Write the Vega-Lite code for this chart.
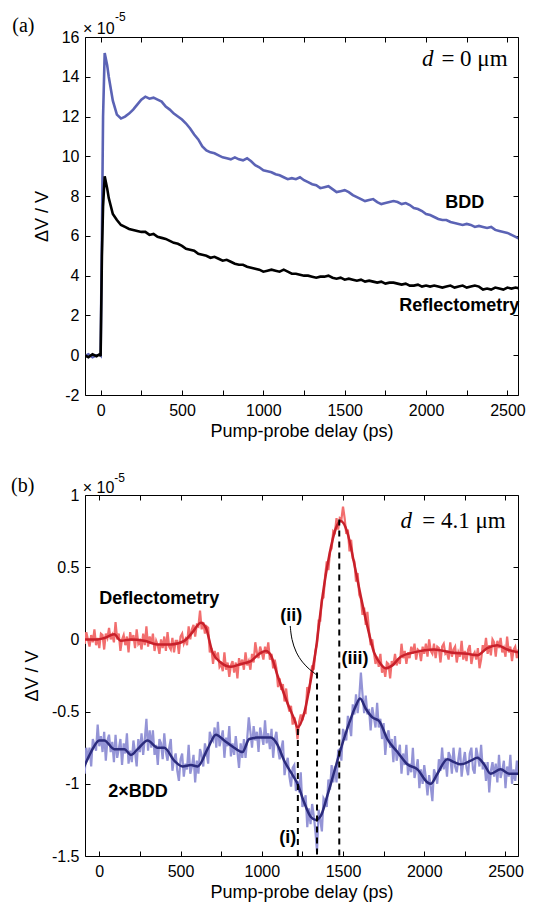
{
"$schema": "https://vega.github.io/schema/vega-lite/v6.json",
"padding": {"left": 10, "top": 10, "right": 5, "bottom": 5},
"spacing": 100,
"bounds": "flush",
"resolve": {"scale": {"color": "independent"}},
"datasets": {
"a": [
{"t":-100,"b":-0.05,"r":0.0},{"t":-75,"b":0.05,"r":-0.1},{"t":-50,"b":-0.1,"r":0.05},{"t":-25,"b":0.0,"r":-0.05},{"t":-5,"b":0.05,"r":0.05},{"t":0,"b":0.0,"r":-0.05},
{"t":8,"b":6,"r":5},{"t":15,"b":12,"r":7.5},{"t":25,"b":15.2,"r":9.0},{"t":40,"b":14.6,"r":8.4},{"t":50,"b":14.0,"r":7.9},{"t":75,"b":12.8,"r":7.1},
{"t":100,"b":12.1,"r":6.8},{"t":125,"b":11.9,"r":6.55},{"t":150,"b":12.0,"r":6.45},{"t":175,"b":12.15,"r":6.35},{"t":200,"b":12.35,"r":6.3},{"t":225,"b":12.6,"r":6.25},
{"t":250,"b":12.85,"r":6.2},{"t":275,"b":13.0,"r":6.2},{"t":300,"b":12.9,"r":6.05},{"t":325,"b":12.95,"r":6.1},{"t":350,"b":12.85,"r":5.95},{"t":375,"b":12.75,"r":5.9},
{"t":400,"b":12.5,"r":5.85},{"t":425,"b":12.35,"r":5.75},{"t":450,"b":12.15,"r":5.65},{"t":475,"b":12.0,"r":5.6},{"t":500,"b":11.85,"r":5.5},{"t":525,"b":11.65,"r":5.35},
{"t":550,"b":11.4,"r":5.3},{"t":575,"b":11.1,"r":5.25},{"t":600,"b":10.85,"r":5.1},{"t":625,"b":10.5,"r":5.05},{"t":650,"b":10.3,"r":5.0},{"t":675,"b":10.2,"r":4.9},
{"t":700,"b":10.15,"r":4.95},{"t":725,"b":10.05,"r":4.85},{"t":750,"b":9.95,"r":4.75},{"t":775,"b":9.9,"r":4.8},{"t":800,"b":9.85,"r":4.7},{"t":825,"b":9.95,"r":4.6},
{"t":850,"b":9.85,"r":4.55},{"t":875,"b":9.8,"r":4.55},{"t":900,"b":9.9,"r":4.45},{"t":925,"b":9.75,"r":4.4},{"t":950,"b":9.55,"r":4.35},{"t":975,"b":9.45,"r":4.3},
{"t":1000,"b":9.3,"r":4.2},{"t":1025,"b":9.25,"r":4.25},{"t":1050,"b":9.2,"r":4.3},{"t":1075,"b":9.1,"r":4.25},{"t":1100,"b":9.05,"r":4.2},{"t":1125,"b":8.95,"r":4.3},
{"t":1150,"b":8.85,"r":4.2},{"t":1175,"b":8.9,"r":4.1},{"t":1200,"b":8.85,"r":4.1},{"t":1225,"b":8.95,"r":4.05},{"t":1250,"b":8.8,"r":4.0},{"t":1275,"b":8.7,"r":4.0},
{"t":1300,"b":8.6,"r":3.95},{"t":1325,"b":8.55,"r":3.9},{"t":1350,"b":8.4,"r":3.95},{"t":1375,"b":8.45,"r":3.95},{"t":1400,"b":8.5,"r":4.0},{"t":1425,"b":8.35,"r":3.9},
{"t":1450,"b":8.2,"r":3.85},{"t":1475,"b":8.25,"r":3.9},{"t":1500,"b":8.3,"r":3.8},{"t":1525,"b":8.2,"r":3.85},{"t":1550,"b":8.05,"r":3.8},{"t":1575,"b":7.95,"r":3.75},
{"t":1600,"b":7.85,"r":3.8},{"t":1625,"b":7.75,"r":3.7},{"t":1650,"b":7.8,"r":3.75},{"t":1675,"b":7.85,"r":3.7},{"t":1700,"b":7.7,"r":3.65},{"t":1725,"b":7.6,"r":3.7},
{"t":1750,"b":7.65,"r":3.6},{"t":1775,"b":7.7,"r":3.65},{"t":1800,"b":7.75,"r":3.65},{"t":1825,"b":7.7,"r":3.6},{"t":1850,"b":7.6,"r":3.55},{"t":1875,"b":7.65,"r":3.6},
{"t":1900,"b":7.55,"r":3.5},{"t":1925,"b":7.4,"r":3.5},{"t":1950,"b":7.35,"r":3.55},{"t":1975,"b":7.25,"r":3.45},{"t":2000,"b":7.1,"r":3.5},{"t":2025,"b":7.05,"r":3.45},
{"t":2050,"b":6.95,"r":3.5},{"t":2075,"b":6.85,"r":3.45},{"t":2100,"b":6.8,"r":3.4},{"t":2125,"b":6.8,"r":3.45},{"t":2150,"b":6.7,"r":3.5},{"t":2175,"b":6.65,"r":3.4},
{"t":2200,"b":6.6,"r":3.45},{"t":2225,"b":6.55,"r":3.5},{"t":2250,"b":6.6,"r":3.4},{"t":2275,"b":6.55,"r":3.45},{"t":2300,"b":6.45,"r":3.5},{"t":2325,"b":6.5,"r":3.45},
{"t":2350,"b":6.45,"r":3.3},{"t":2375,"b":6.4,"r":3.35},{"t":2400,"b":6.45,"r":3.3},{"t":2425,"b":6.3,"r":3.4},{"t":2450,"b":6.25,"r":3.35},{"t":2475,"b":6.2,"r":3.3},
{"t":2500,"b":6.15,"r":3.4},{"t":2525,"b":6.05,"r":3.35},{"t":2550,"b":5.95,"r":3.4},{"t":2575,"b":5.85,"r":3.35}
],
"bn": [
{"t":-100,"d":0.02,"b":-0.85},{"t":-90,"d":-0.03,"b":-0.93},{"t":-80,"d":0.05,"b":-0.75},{"t":-70,"d":0.0,"b":-0.83},{"t":-60,"d":-0.05,"b":-0.75},{"t":-50,"d":0.03,"b":-0.88},
{"t":-40,"d":-0.02,"b":-0.69},{"t":-30,"d":0.07,"b":-0.73},{"t":-20,"d":-0.04,"b":-0.77},{"t":-10,"d":0.01,"b":-0.59},{"t":0,"d":-0.06,"b":-0.74},{"t":10,"d":0.04,"b":-0.67},
{"t":20,"d":0.03,"b":-0.78},{"t":30,"d":-0.07,"b":-0.64},{"t":40,"d":0.04,"b":-0.84},{"t":50,"d":0.01,"b":-0.7},{"t":60,"d":0.08,"b":-0.66},{"t":70,"d":0.0,"b":-0.78},
{"t":80,"d":0.03,"b":-0.71},{"t":90,"d":-0.02,"b":-0.85},{"t":100,"d":0.12,"b":-0.66},{"t":110,"d":0.0,"b":-0.82},{"t":120,"d":0.04,"b":-0.76},{"t":130,"d":-0.08,"b":-0.69},
{"t":140,"d":0.0,"b":-0.87},{"t":150,"d":0.03,"b":-0.72},{"t":160,"d":-0.04,"b":-0.79},{"t":170,"d":0.02,"b":-0.65},{"t":180,"d":-0.09,"b":-0.86},{"t":190,"d":0.05,"b":-0.77},
{"t":200,"d":-0.01,"b":-0.85},{"t":210,"d":0.03,"b":-0.7},{"t":220,"d":-0.06,"b":-0.78},{"t":230,"d":0.07,"b":-0.88},{"t":240,"d":-0.03,"b":-0.69},{"t":250,"d":-0.01,"b":-0.78},
{"t":260,"d":-0.07,"b":-0.65},{"t":270,"d":0.04,"b":-0.8},{"t":280,"d":-0.04,"b":-0.69},{"t":290,"d":0.09,"b":-0.55},{"t":300,"d":-0.05,"b":-0.77},{"t":310,"d":0.02,"b":-0.63},
{"t":320,"d":-0.03,"b":-0.75},{"t":330,"d":0.04,"b":-0.63},{"t":340,"d":-0.08,"b":-0.8},{"t":350,"d":-0.01,"b":-0.73},{"t":360,"d":-0.04,"b":-0.87},{"t":370,"d":-0.1,"b":-0.69},
{"t":380,"d":0.0,"b":-0.72},{"t":390,"d":-0.06,"b":-0.83},{"t":400,"d":0.02,"b":-0.65},{"t":410,"d":-0.08,"b":-0.78},{"t":420,"d":0.05,"b":-0.84},{"t":430,"d":-0.05,"b":-0.75},
{"t":440,"d":-0.07,"b":-0.69},{"t":450,"d":0.01,"b":-0.91},{"t":460,"d":-0.09,"b":-0.83},{"t":470,"d":-0.01,"b":-0.79},{"t":480,"d":-0.01,"b":-0.91},{"t":490,"d":-0.1,"b":-0.98},
{"t":500,"d":0.02,"b":-0.83},{"t":510,"d":0.04,"b":-0.79},{"t":520,"d":-0.03,"b":-0.95},{"t":530,"d":0.0,"b":-0.86},{"t":540,"d":-0.04,"b":-0.9},{"t":550,"d":0.09,"b":-0.73},
{"t":560,"d":0.0,"b":-0.93},{"t":570,"d":0.07,"b":-0.88},{"t":580,"d":0.1,"b":-0.8},{"t":590,"d":0.02,"b":-0.99},{"t":600,"d":0.1,"b":-0.84},{"t":610,"d":0.09,"b":-0.93},
{"t":620,"d":0.2,"b":-0.76},{"t":630,"d":0.07,"b":-0.8},{"t":640,"d":0.12,"b":-0.88},{"t":650,"d":0.04,"b":-0.72},{"t":660,"d":0.09,"b":-0.78},{"t":670,"d":0.08,"b":-0.86},
{"t":680,"d":-0.09,"b":-0.64},{"t":690,"d":-0.06,"b":-0.68},{"t":700,"d":-0.17,"b":-0.7},{"t":710,"d":-0.08,"b":-0.61},{"t":720,"d":-0.14,"b":-0.75},{"t":730,"d":-0.09,"b":-0.57},
{"t":740,"d":-0.19,"b":-0.74},{"t":750,"d":-0.17,"b":-0.69},{"t":760,"d":-0.22,"b":-0.63},{"t":770,"d":-0.09,"b":-0.82},{"t":780,"d":-0.21,"b":-0.68},{"t":790,"d":-0.16,"b":-0.74},
{"t":800,"d":-0.26,"b":-0.6},{"t":810,"d":-0.18,"b":-0.81},{"t":820,"d":-0.15,"b":-0.72},{"t":830,"d":-0.23,"b":-0.8},{"t":840,"d":-0.16,"b":-0.67},{"t":850,"d":-0.27,"b":-0.78},
{"t":860,"d":-0.13,"b":-0.89},{"t":870,"d":-0.18,"b":-0.72},{"t":880,"d":-0.14,"b":-0.82},{"t":890,"d":-0.21,"b":-0.69},{"t":900,"d":-0.09,"b":-0.82},{"t":910,"d":-0.18,"b":-0.69},
{"t":920,"d":-0.15,"b":-0.54},{"t":930,"d":-0.21,"b":-0.64},{"t":940,"d":-0.1,"b":-0.75},{"t":950,"d":-0.16,"b":-0.6},{"t":960,"d":-0.02,"b":-0.7},{"t":970,"d":-0.09,"b":-0.64},
{"t":980,"d":-0.13,"b":-0.78},{"t":990,"d":-0.05,"b":-0.61},{"t":1000,"d":-0.09,"b":-0.67},{"t":1010,"d":-0.14,"b":-0.73},{"t":1020,"d":-0.05,"b":-0.56},{"t":1030,"d":-0.1,"b":-0.72},
{"t":1040,"d":-0.02,"b":-0.65},{"t":1050,"d":-0.14,"b":-0.76},{"t":1060,"d":-0.1,"b":-0.62},{"t":1070,"d":-0.2,"b":-0.82},{"t":1080,"d":-0.14,"b":-0.69},{"t":1090,"d":-0.2,"b":-0.64},
{"t":1100,"d":-0.33,"b":-0.76},{"t":1110,"d":-0.27,"b":-0.83},{"t":1120,"d":-0.35,"b":-0.76},{"t":1130,"d":-0.31,"b":-0.7},{"t":1140,"d":-0.43,"b":-0.94},{"t":1150,"d":-0.34,"b":-0.86},
{"t":1160,"d":-0.45,"b":-0.82},{"t":1170,"d":-0.5,"b":-0.95},{"t":1180,"d":-0.46,"b":-1.02},{"t":1190,"d":-0.59,"b":-0.89},{"t":1200,"d":-0.54,"b":-0.87},{"t":1210,"d":-0.58,"b":-1.05},
{"t":1220,"d":-0.69,"b":-0.98},{"t":1230,"d":-0.57,"b":-1.06},{"t":1240,"d":-0.52,"b":-0.92},{"t":1250,"d":-0.56,"b":-1.16},{"t":1260,"d":-0.51,"b":-1.13},{"t":1270,"d":-0.51,"b":-1.08},
{"t":1280,"d":-0.33,"b":-1.3},{"t":1290,"d":-0.37,"b":-1.17},{"t":1300,"d":-0.27,"b":-1.28},{"t":1310,"d":-0.18,"b":-1.14},{"t":1320,"d":-0.21,"b":-1.22},{"t":1330,"d":-0.08,"b":-1.33},
{"t":1340,"d":-0.03,"b":-1.47},{"t":1350,"d":0.13,"b":-1.18},{"t":1360,"d":0.13,"b":-1.25},{"t":1370,"d":0.28,"b":-1.33},{"t":1380,"d":0.29,"b":-1.1},{"t":1390,"d":0.44,"b":-1.12},
{"t":1400,"d":0.54,"b":-1.16},{"t":1410,"d":0.48,"b":-0.97},{"t":1420,"d":0.61,"b":-1.04},{"t":1430,"d":0.63,"b":-0.87},{"t":1440,"d":0.75,"b":-0.99},{"t":1450,"d":0.74,"b":-0.88},
{"t":1460,"d":0.84,"b":-0.99},{"t":1470,"d":0.76,"b":-0.77},{"t":1480,"d":0.84,"b":-0.76},{"t":1490,"d":0.83,"b":-0.84},{"t":1500,"d":0.92,"b":-0.62},{"t":1510,"d":0.84,"b":-0.66},
{"t":1520,"d":0.73,"b":-0.7},{"t":1530,"d":0.76,"b":-0.53},{"t":1540,"d":0.61,"b":-0.59},{"t":1550,"d":0.69,"b":-0.67},{"t":1560,"d":0.56,"b":-0.45},{"t":1570,"d":0.54,"b":-0.52},
{"t":1580,"d":0.4,"b":-0.38},{"t":1590,"d":0.46,"b":-0.51},{"t":1600,"d":0.31,"b":-0.4},{"t":1610,"d":0.28,"b":-0.23},{"t":1620,"d":0.17,"b":-0.38},{"t":1630,"d":0.22,"b":-0.51},
{"t":1640,"d":0.1,"b":-0.39},{"t":1650,"d":0.19,"b":-0.52},{"t":1660,"d":0.06,"b":-0.48},{"t":1670,"d":-0.04,"b":-0.63},{"t":1680,"d":0.0,"b":-0.47},{"t":1690,"d":-0.09,"b":-0.54},
{"t":1700,"d":-0.17,"b":-0.61},{"t":1710,"d":-0.12,"b":-0.44},{"t":1720,"d":-0.19,"b":-0.61},{"t":1730,"d":-0.1,"b":-0.55},{"t":1740,"d":-0.23,"b":-0.69},{"t":1750,"d":-0.19,"b":-0.58},
{"t":1760,"d":-0.26,"b":-0.8},{"t":1770,"d":-0.16,"b":-0.67},{"t":1780,"d":-0.17,"b":-0.63},{"t":1790,"d":-0.27,"b":-0.75},{"t":1800,"d":-0.15,"b":-0.69},{"t":1810,"d":-0.18,"b":-0.85},
{"t":1820,"d":-0.1,"b":-0.67},{"t":1830,"d":-0.18,"b":-0.84},{"t":1840,"d":-0.13,"b":-0.79},{"t":1850,"d":-0.17,"b":-0.73},{"t":1860,"d":-0.03,"b":-0.93},{"t":1870,"d":-0.13,"b":-0.79},
{"t":1880,"d":-0.08,"b":-0.87},{"t":1890,"d":-0.17,"b":-0.73},{"t":1900,"d":-0.09,"b":-0.94},{"t":1910,"d":-0.13,"b":-0.86},{"t":1920,"d":-0.05,"b":-0.92},{"t":1930,"d":-0.1,"b":-0.75},
{"t":1940,"d":-0.03,"b":-0.96},{"t":1950,"d":-0.14,"b":-0.9},{"t":1960,"d":-0.07,"b":-0.83},{"t":1970,"d":-0.08,"b":-1.03},{"t":1980,"d":-0.15,"b":-0.9},{"t":1990,"d":-0.05,"b":-1.0},
{"t":2000,"d":-0.1,"b":-0.87},{"t":2010,"d":-0.03,"b":-0.96},{"t":2020,"d":-0.12,"b":-1.08},{"t":2030,"d":0.0,"b":-0.94},{"t":2040,"d":-0.08,"b":-1.02},{"t":2050,"d":-0.1,"b":-1.12},
{"t":2060,"d":-0.03,"b":-0.9},{"t":2070,"d":-0.13,"b":-0.94},{"t":2080,"d":-0.05,"b":-1.0},{"t":2090,"d":-0.06,"b":-0.83},{"t":2100,"d":-0.16,"b":-0.91},{"t":2110,"d":-0.05,"b":-0.75},
{"t":2120,"d":-0.03,"b":-0.9},{"t":2130,"d":-0.1,"b":-0.82},{"t":2140,"d":-0.09,"b":-0.95},{"t":2150,"d":-0.14,"b":-0.78},{"t":2160,"d":-0.02,"b":-0.81},{"t":2170,"d":-0.12,"b":-0.93},
{"t":2180,"d":-0.07,"b":-0.75},{"t":2190,"d":-0.05,"b":-0.88},{"t":2200,"d":-0.16,"b":-0.92},{"t":2210,"d":-0.09,"b":-0.83},{"t":2220,"d":-0.12,"b":-0.75},{"t":2230,"d":-0.01,"b":-0.95},
{"t":2240,"d":-0.14,"b":-0.85},{"t":2250,"d":-0.08,"b":-0.78},{"t":2260,"d":-0.15,"b":-0.89},{"t":2270,"d":-0.07,"b":-0.94},{"t":2280,"d":-0.04,"b":-0.79},{"t":2290,"d":-0.17,"b":-0.75},
{"t":2300,"d":-0.11,"b":-0.9},{"t":2310,"d":-0.09,"b":-0.93},{"t":2320,"d":-0.14,"b":-0.75},{"t":2330,"d":-0.06,"b":-0.81},{"t":2340,"d":-0.2,"b":-0.88},{"t":2350,"d":-0.14,"b":-0.73},
{"t":2360,"d":-0.04,"b":-0.9},{"t":2370,"d":-0.08,"b":-0.85},{"t":2380,"d":0.01,"b":-0.98},{"t":2390,"d":-0.1,"b":-0.85},{"t":2400,"d":-0.04,"b":-1.06},{"t":2410,"d":-0.11,"b":-0.91},
{"t":2420,"d":0.0,"b":-0.85},{"t":2430,"d":-0.02,"b":-0.95},{"t":2440,"d":-0.12,"b":-0.86},{"t":2450,"d":-0.01,"b":-0.99},{"t":2460,"d":-0.06,"b":-0.8},{"t":2470,"d":0.01,"b":-0.96},
{"t":2480,"d":-0.09,"b":-0.91},{"t":2490,"d":-0.06,"b":-0.84},{"t":2500,"d":-0.12,"b":-1.03},{"t":2510,"d":0.02,"b":-0.88},{"t":2520,"d":-0.09,"b":-0.95},{"t":2530,"d":-0.05,"b":-0.8},
{"t":2540,"d":-0.15,"b":-1.0},{"t":2550,"d":-0.07,"b":-0.9},{"t":2560,"d":-0.05,"b":-0.98},{"t":2570,"d":-0.13,"b":-0.84},{"t":2580,"d":-0.07,"b":-0.94}
],
"bs": [
{"k":"d","t":-100,"v":0.0},{"k":"d","t":-10,"v":0.0},{"k":"d","t":31,"v":0.01},{"k":"d","t":92,"v":0.035},{"k":"d","t":133,"v":-0.01},{"k":"d","t":195,"v":0.0},{"k":"d","t":277,"v":-0.01},
{"k":"d","t":359,"v":-0.035},{"k":"d","t":441,"v":-0.035},{"k":"d","t":523,"v":-0.01},{"k":"d","t":574,"v":0.05},{"k":"d","t":625,"v":0.115},{"k":"d","t":656,"v":0.08},{"k":"d","t":697,"v":-0.09},
{"k":"d","t":748,"v":-0.16},{"k":"d","t":810,"v":-0.19},{"k":"d","t":871,"v":-0.17},{"k":"d","t":933,"v":-0.15},{"k":"d","t":984,"v":-0.1},{"k":"d","t":1025,"v":-0.08},{"k":"d","t":1056,"v":-0.11},
{"k":"d","t":1097,"v":-0.25},{"k":"d","t":1158,"v":-0.44},{"k":"d","t":1199,"v":-0.55},{"k":"d","t":1220,"v":-0.61},{"k":"d","t":1261,"v":-0.51},{"k":"d","t":1302,"v":-0.28},{"k":"d","t":1333,"v":-0.07},
{"k":"d","t":1374,"v":0.3},{"k":"d","t":1415,"v":0.58},{"k":"d","t":1456,"v":0.77},{"k":"d","t":1486,"v":0.82},{"k":"d","t":1527,"v":0.74},{"k":"d","t":1568,"v":0.53},{"k":"d","t":1609,"v":0.3},
{"k":"d","t":1650,"v":0.09},{"k":"d","t":1691,"v":-0.09},{"k":"d","t":1732,"v":-0.17},{"k":"d","t":1763,"v":-0.2},{"k":"d","t":1804,"v":-0.18},{"k":"d","t":1855,"v":-0.12},{"k":"d","t":1937,"v":-0.09},
{"k":"d","t":2060,"v":-0.07},{"k":"d","t":2163,"v":-0.09},{"k":"d","t":2265,"v":-0.1},{"k":"d","t":2327,"v":-0.11},{"k":"d","t":2388,"v":-0.06},{"k":"d","t":2450,"v":-0.04},{"k":"d","t":2511,"v":-0.07},{"k":"d","t":2580,"v":-0.09},
{"k":"b","t":-100,"v":-0.9},{"k":"b","t":-51,"v":-0.78},{"k":"b","t":0,"v":-0.7},{"k":"b","t":31,"v":-0.7},{"k":"b","t":92,"v":-0.76},{"k":"b","t":154,"v":-0.76},{"k":"b","t":195,"v":-0.8},
{"k":"b","t":236,"v":-0.76},{"k":"b","t":297,"v":-0.7},{"k":"b","t":359,"v":-0.75},{"k":"b","t":400,"v":-0.75},{"k":"b","t":461,"v":-0.84},{"k":"b","t":513,"v":-0.88},{"k":"b","t":564,"v":-0.87},
{"k":"b","t":605,"v":-0.88},{"k":"b","t":666,"v":-0.76},{"k":"b","t":718,"v":-0.66},{"k":"b","t":769,"v":-0.7},{"k":"b","t":830,"v":-0.75},{"k":"b","t":881,"v":-0.78},{"k":"b","t":923,"v":-0.69},
{"k":"b","t":974,"v":-0.68},{"k":"b","t":1056,"v":-0.68},{"k":"b","t":1097,"v":-0.73},{"k":"b","t":1138,"v":-0.84},{"k":"b","t":1179,"v":-0.92},{"k":"b","t":1220,"v":-1.0},{"k":"b","t":1261,"v":-1.13},
{"k":"b","t":1302,"v":-1.23},{"k":"b","t":1333,"v":-1.25},{"k":"b","t":1364,"v":-1.22},{"k":"b","t":1404,"v":-1.08},{"k":"b","t":1445,"v":-0.92},{"k":"b","t":1486,"v":-0.76},{"k":"b","t":1538,"v":-0.58},
{"k":"b","t":1579,"v":-0.46},{"k":"b","t":1605,"v":-0.41},{"k":"b","t":1640,"v":-0.48},{"k":"b","t":1681,"v":-0.54},{"k":"b","t":1722,"v":-0.565},{"k":"b","t":1773,"v":-0.69},{"k":"b","t":1835,"v":-0.78},
{"k":"b","t":1896,"v":-0.865},{"k":"b","t":1958,"v":-0.9},{"k":"b","t":2019,"v":-0.99},{"k":"b","t":2040,"v":-1.0},{"k":"b","t":2081,"v":-0.93},{"k":"b","t":2142,"v":-0.83},{"k":"b","t":2183,"v":-0.85},
{"k":"b","t":2224,"v":-0.865},{"k":"b","t":2286,"v":-0.84},{"k":"b","t":2327,"v":-0.82},{"k":"b","t":2368,"v":-0.865},{"k":"b","t":2409,"v":-0.93},{"k":"b","t":2470,"v":-0.9},{"k":"b","t":2522,"v":-0.93},{"k":"b","t":2580,"v":-0.93}
],
"rules": [{"t":1222,"v1":-0.62,"v2":-1.5},{"t":1340,"v1":-0.23,"v2":-1.5},{"t":1477,"v1":0.83,"v2":-1.5}],
"lead": [{"t":1175,"v":0.093},{"t":1183,"v":0.0},{"t":1210,"v":-0.092},{"t":1251,"v":-0.161},{"t":1292,"v":-0.207},{"t":1333,"v":-0.242}],
"lab": [
{"p":"a","s":"bold","t":2118,"v":7.66,"txt":"BDD"},
{"p":"a","s":"bold","t":1835,"v":2.48,"txt":"Reflectometry"},
{"p":"a","s":"panel","t":-543,"v":16.55,"txt":"(a)"},
{"p":"a","s":"dr","t":2501,"v":14.54,"txt":"= 0 μm"},
{"p":"a","s":"di","t":2045,"v":14.54,"txt":"d"},
{"p":"a","s":"x10","t":-108,"v":16.17,"txt":"× 10"},
{"p":"a","s":"exp","t":88,"v":16.79,"txt":"-5"},
{"p":"b","s":"bold","t":0,"v":0.277,"txt":"Deflectometry"},
{"p":"b","s":"bold","t":55,"v":-1.06,"txt":"2×BDD"},
{"p":"b","s":"bold","t":1113,"v":0.162,"txt":"(ii)"},
{"p":"b","s":"bold","t":1491,"v":-0.138,"txt":"(iii)"},
{"p":"b","s":"bold","t":1107,"v":-1.373,"txt":"(i)"},
{"p":"b","s":"panel","t":-543,"v":1.064,"txt":"(b)"},
{"p":"b","s":"dr","t":2501,"v":0.774,"txt":"= 4.1 μm"},
{"p":"b","s":"di","t":1925,"v":0.774,"txt":"d"},
{"p":"b","s":"x10","t":-102,"v":1.016,"txt":"× 10"},
{"p":"b","s":"exp","t":92,"v":1.092,"txt":"-5"}
]
},
"vconcat": [
{
"width": 433, "height": 358,
"resolve": {"axis": {"x": "independent", "y": "independent"}},
"layer": [
{
"data": {"name": "a"},
"transform": [{"fold": ["b", "r"], "as": ["k", "v"]}],
"mark": {"type": "line", "clip": true, "strokeWidth": 2.6},
"encoding": {
"x": {"field": "t", "type": "quantitative", "scale": {"domain": [-96, 2565], "nice": false, "zero": false},
"axis": {"orient": "bottom", "title": "Pump-probe delay (ps)", "values": [0,250,500,750,1000,1250,1500,1750,2000,2250,2500], "labelExpr": "datum.value % 500 == 0 ? format(datum.value, 'd') : ''", "labelFlush": false, "labelPadding": 12, "titlePadding": 4}},
"y": {"field": "v", "type": "quantitative", "scale": {"domain": [-2, 16], "nice": false, "zero": false},
"axis": {"orient": "left", "title": "ΔV / V", "values": [-2,0,2,4,6,8,10,12,14,16], "labelExpr": "replace(format(datum.value, '~g'), '\u2212', '-')", "titlePadding": 10}},
"color": {"field": "k", "type": "nominal", "scale": {"domain": ["b", "r"], "range": ["#5b63b5", "#000000"]}, "legend": null}
}
},
{
"data": {"name": "lab"},
"transform": [{"filter": "datum.p == 'a' && datum.s == 'bold'"}],
"mark": {"type": "text", "font": "Liberation Sans", "fontWeight": "bold", "fontSize": 18, "align": "left", "baseline": "middle"},
"encoding": {
"x": {"field": "t", "type": "quantitative", "axis": {"orient": "top", "labels": false, "title": null, "values": [0,250,500,750,1000,1250,1500,1750,2000,2250,2500]}},
"y": {"field": "v", "type": "quantitative", "axis": {"orient": "right", "labels": false, "title": null, "values": [-2,0,2,4,6,8,10,12,14,16]}},
"text": {"field": "txt"}
}
},
{
"data": {"name": "lab"},
"transform": [{"filter": "datum.p == 'a' && datum.s == 'panel'"}],
"mark": {"type": "text", "font": "Liberation Serif", "fontSize": 20, "align": "left", "baseline": "middle"},
"encoding": {"x": {"field": "t", "type": "quantitative", "axis": null}, "y": {"field": "v", "type": "quantitative", "axis": null}, "text": {"field": "txt"}}
},
{
"data": {"name": "lab"},
"transform": [{"filter": "datum.p == 'a' && datum.s == 'dr'"}],
"mark": {"type": "text", "font": "Liberation Serif", "fontSize": 23, "align": "right", "baseline": "alphabetic"},
"encoding": {"x": {"field": "t", "type": "quantitative", "axis": null}, "y": {"field": "v", "type": "quantitative", "axis": null}, "text": {"field": "txt"}}
},
{
"data": {"name": "lab"},
"transform": [{"filter": "datum.p == 'a' && datum.s == 'di'"}],
"mark": {"type": "text", "font": "Liberation Serif", "fontStyle": "italic", "fontSize": 23, "align": "right", "baseline": "alphabetic"},
"encoding": {"x": {"field": "t", "type": "quantitative", "axis": null}, "y": {"field": "v", "type": "quantitative", "axis": null}, "text": {"field": "txt"}}
},
{
"data": {"name": "lab"},
"transform": [{"filter": "datum.p == 'a' && datum.s == 'x10'"}],
"mark": {"type": "text", "font": "Liberation Sans", "fontSize": 16, "align": "left", "baseline": "alphabetic"},
"encoding": {"x": {"field": "t", "type": "quantitative", "axis": null}, "y": {"field": "v", "type": "quantitative", "axis": null}, "text": {"field": "txt"}}
},
{
"data": {"name": "lab"},
"transform": [{"filter": "datum.p == 'a' && datum.s == 'exp'"}],
"mark": {"type": "text", "font": "Liberation Sans", "fontSize": 12, "align": "left", "baseline": "alphabetic"},
"encoding": {"x": {"field": "t", "type": "quantitative", "axis": null}, "y": {"field": "v", "type": "quantitative", "axis": null}, "text": {"field": "txt"}}
}
]
},
{
"width": 433, "height": 361,
"resolve": {"axis": {"x": "independent", "y": "independent"}, "scale": {"color": "independent"}},
"layer": [
{
"data": {"name": "bn"},
"transform": [{"fold": ["d", "b"], "as": ["k", "v"]}],
"mark": {"type": "line", "clip": true, "strokeWidth": 2.2},
"encoding": {
"x": {"field": "t", "type": "quantitative", "scale": {"domain": [-88, 2577], "nice": false, "zero": false},
"axis": {"orient": "bottom", "title": "Pump-probe delay (ps)", "values": [0,250,500,750,1000,1250,1500,1750,2000,2250,2500], "labelExpr": "datum.value % 500 == 0 ? format(datum.value, 'd') : ''", "labelFlush": false, "labelPadding": 12, "titlePadding": 4}},
"y": {"field": "v", "type": "quantitative", "scale": {"domain": [-1.5, 1], "nice": false, "zero": false},
"axis": {"orient": "left", "title": "ΔV / V", "values": [-1.5,-1,-0.5,0,0.5,1], "labelExpr": "replace(format(datum.value, '~g'), '\u2212', '-')", "titlePadding": 10}},
"color": {"field": "k", "type": "nominal", "scale": {"domain": ["b", "d"], "range": ["#9494d6", "#f26e6e"]}, "legend": null}
}
},
{
"data": {"name": "bs"},
"mark": {"type": "line", "clip": true, "strokeWidth": 2.5, "interpolate": "monotone"},
"encoding": {
"x": {"field": "t", "type": "quantitative", "axis": {"orient": "top", "labels": false, "title": null, "values": [0,250,500,750,1000,1250,1500,1750,2000,2250,2500]}},
"y": {"field": "v", "type": "quantitative", "axis": {"orient": "right", "labels": false, "title": null, "values": [-1.5,-1,-0.5,0,0.5,1]}},
"color": {"field": "k", "type": "nominal", "scale": {"domain": ["b", "d"], "range": ["#2b2b7c", "#c8202a"]}, "legend": null}
}
},
{
"data": {"name": "rules"},
"mark": {"type": "rule", "strokeDash": [6, 5], "strokeWidth": 2, "color": "#000"},
"encoding": {"x": {"field": "t", "type": "quantitative", "axis": null}, "y": {"field": "v1", "type": "quantitative", "axis": null}, "y2": {"field": "v2"}}
},
{
"data": {"name": "lead"},
"mark": {"type": "line", "interpolate": "basis", "strokeWidth": 1, "color": "#000"},
"encoding": {"x": {"field": "t", "type": "quantitative", "axis": null}, "y": {"field": "v", "type": "quantitative", "axis": null}}
},
{
"data": {"name": "lab"},
"transform": [{"filter": "datum.p == 'b' && datum.s == 'bold'"}],
"mark": {"type": "text", "font": "Liberation Sans", "fontWeight": "bold", "fontSize": 18, "align": "left", "baseline": "middle"},
"encoding": {"x": {"field": "t", "type": "quantitative", "axis": null}, "y": {"field": "v", "type": "quantitative", "axis": null}, "text": {"field": "txt"}}
},
{
"data": {"name": "lab"},
"transform": [{"filter": "datum.p == 'b' && datum.s == 'panel'"}],
"mark": {"type": "text", "font": "Liberation Serif", "fontSize": 20, "align": "left", "baseline": "middle"},
"encoding": {"x": {"field": "t", "type": "quantitative", "axis": null}, "y": {"field": "v", "type": "quantitative", "axis": null}, "text": {"field": "txt"}}
},
{
"data": {"name": "lab"},
"transform": [{"filter": "datum.p == 'b' && datum.s == 'dr'"}],
"mark": {"type": "text", "font": "Liberation Serif", "fontSize": 23, "align": "right", "baseline": "alphabetic"},
"encoding": {"x": {"field": "t", "type": "quantitative", "axis": null}, "y": {"field": "v", "type": "quantitative", "axis": null}, "text": {"field": "txt"}}
},
{
"data": {"name": "lab"},
"transform": [{"filter": "datum.p == 'b' && datum.s == 'di'"}],
"mark": {"type": "text", "font": "Liberation Serif", "fontStyle": "italic", "fontSize": 23, "align": "right", "baseline": "alphabetic"},
"encoding": {"x": {"field": "t", "type": "quantitative", "axis": null}, "y": {"field": "v", "type": "quantitative", "axis": null}, "text": {"field": "txt"}}
},
{
"data": {"name": "lab"},
"transform": [{"filter": "datum.p == 'b' && datum.s == 'x10'"}],
"mark": {"type": "text", "font": "Liberation Sans", "fontSize": 16, "align": "left", "baseline": "alphabetic"},
"encoding": {"x": {"field": "t", "type": "quantitative", "axis": null}, "y": {"field": "v", "type": "quantitative", "axis": null}, "text": {"field": "txt"}}
},
{
"data": {"name": "lab"},
"transform": [{"filter": "datum.p == 'b' && datum.s == 'exp'"}],
"mark": {"type": "text", "font": "Liberation Sans", "fontSize": 12, "align": "left", "baseline": "alphabetic"},
"encoding": {"x": {"field": "t", "type": "quantitative", "axis": null}, "y": {"field": "v", "type": "quantitative", "axis": null}, "text": {"field": "txt"}}
}
]
}
],
"config": {
"view": {"stroke": "#000", "strokeWidth": 1},
"axis": {"domain": false, "grid": false, "tickColor": "#000", "tickSize": -5, "tickWidth": 1, "labelFont": "Liberation Sans", "labelFontSize": 16, "labelColor": "#000", "labelPadding": 11, "titleFont": "Liberation Sans", "titleFontSize": 18, "titleFontWeight": "normal", "titleColor": "#000"}
}
}
